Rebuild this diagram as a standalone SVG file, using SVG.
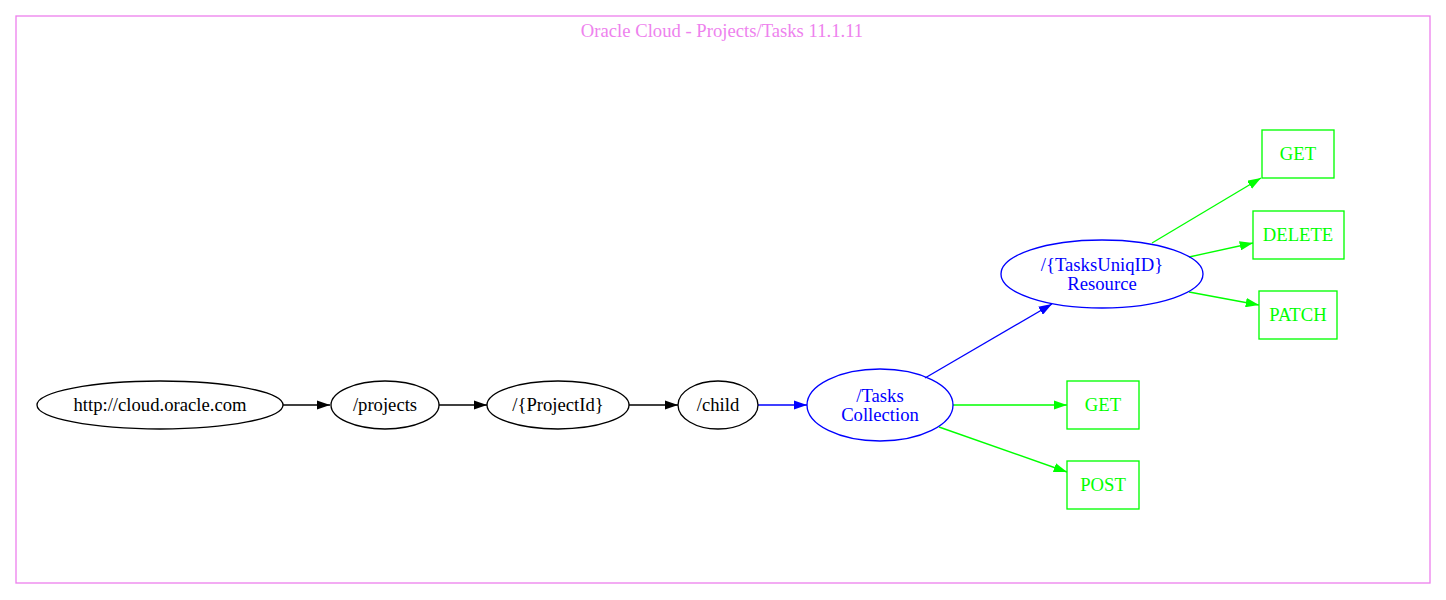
<svg xmlns="http://www.w3.org/2000/svg" width="1446" height="600" viewBox="0 0 1446 600">
<style>
text{font-family:"Liberation Serif","Times New Roman",serif;font-size:18.67px;text-anchor:middle}
.n ellipse{fill:none;stroke:#000;stroke-width:1.33}
.n text{fill:#000}
.b ellipse{fill:none;stroke:#0000ff;stroke-width:1.33}
.b text{fill:#0000ff}
.g rect{fill:none;stroke:#00ff00;stroke-width:1.33}
.g text{fill:#00ff00}
.ek{stroke:#000;stroke-width:1.33;fill:none}
.eb{stroke:#0000ff;stroke-width:1.33;fill:none}
.eg{stroke:#00ff00;stroke-width:1.33;fill:none}
</style>
<defs>
<marker id="ak" viewBox="0 0 13.3 9.4" refX="13.3" refY="4.7" markerWidth="13.3" markerHeight="9.4" markerUnits="userSpaceOnUse" orient="auto"><path d="M0,0 L13.3,4.7 L0,9.4 z" fill="#000"/></marker>
<marker id="ab" viewBox="0 0 13.3 9.4" refX="13.3" refY="4.7" markerWidth="13.3" markerHeight="9.4" markerUnits="userSpaceOnUse" orient="auto"><path d="M0,0 L13.3,4.7 L0,9.4 z" fill="#0000ff"/></marker>
<marker id="ag" viewBox="0 0 13.3 9.4" refX="13.3" refY="4.7" markerWidth="13.3" markerHeight="9.4" markerUnits="userSpaceOnUse" orient="auto"><path d="M0,0 L13.3,4.7 L0,9.4 z" fill="#00ff00"/></marker>
</defs>
<rect width="1446" height="600" fill="#fff"/>
<g id="cluster">
<rect x="16" y="16" width="1414" height="567" fill="none" stroke="#ee82ee" stroke-width="1.33"/>
<text x="722" y="37" fill="#ee82ee">Oracle Cloud - Projects/Tasks 11.1.11</text>
</g>
<g id="edges">
<line class="ek" x1="283" y1="405" x2="330" y2="405" marker-end="url(#ak)"/>
<line class="ek" x1="439" y1="405" x2="487" y2="405" marker-end="url(#ak)"/>
<line class="ek" x1="629" y1="405" x2="678" y2="405" marker-end="url(#ak)"/>
<line class="eb" x1="758" y1="405" x2="807" y2="405" marker-end="url(#ab)"/>
<line class="eb" x1="925" y1="378" x2="1052" y2="304" marker-end="url(#ab)"/>
<line class="eg" x1="953" y1="405" x2="1067" y2="405" marker-end="url(#ag)"/>
<line class="eg" x1="939" y1="427" x2="1067" y2="472" marker-end="url(#ag)"/>
<line class="eg" x1="1152" y1="243" x2="1261" y2="178" marker-end="url(#ag)"/>
<line class="eg" x1="1189" y1="257" x2="1253" y2="243" marker-end="url(#ag)"/>
<line class="eg" x1="1189" y1="292" x2="1259" y2="305" marker-end="url(#ag)"/>
</g>
<g id="root" class="n"><ellipse cx="160" cy="405" rx="123" ry="24"/><text x="160" y="411">http://cloud.oracle.com</text></g>
<g id="projects" class="n"><ellipse cx="385" cy="405" rx="54" ry="24"/><text x="385" y="411">/projects</text></g>
<g id="projectid" class="n"><ellipse cx="558" cy="405" rx="71" ry="24"/><text x="558" y="411">/{ProjectId}</text></g>
<g id="child" class="n"><ellipse cx="718" cy="405" rx="40" ry="24"/><text x="718" y="411">/child</text></g>
<g id="tasks" class="b"><ellipse cx="880" cy="405" rx="73" ry="36"/><text x="880" y="402">/Tasks</text><text x="880" y="421">Collection</text></g>
<g id="resource" class="b"><ellipse cx="1102" cy="274" rx="101" ry="34"/><text x="1102" y="271">/{TasksUniqID}</text><text x="1102" y="290">Resource</text></g>
<g id="tasks_get" class="g"><rect x="1067" y="381" width="72" height="48"/><text x="1103" y="411">GET</text></g>
<g id="tasks_post" class="g"><rect x="1067" y="461" width="72" height="48"/><text x="1103" y="491">POST</text></g>
<g id="res_get" class="g"><rect x="1262" y="130" width="72" height="48"/><text x="1298" y="160">GET</text></g>
<g id="res_delete" class="g"><rect x="1253" y="211" width="91" height="48"/><text x="1298" y="241">DELETE</text></g>
<g id="res_patch" class="g"><rect x="1259" y="291" width="78" height="48"/><text x="1298" y="321">PATCH</text></g>
</svg>
